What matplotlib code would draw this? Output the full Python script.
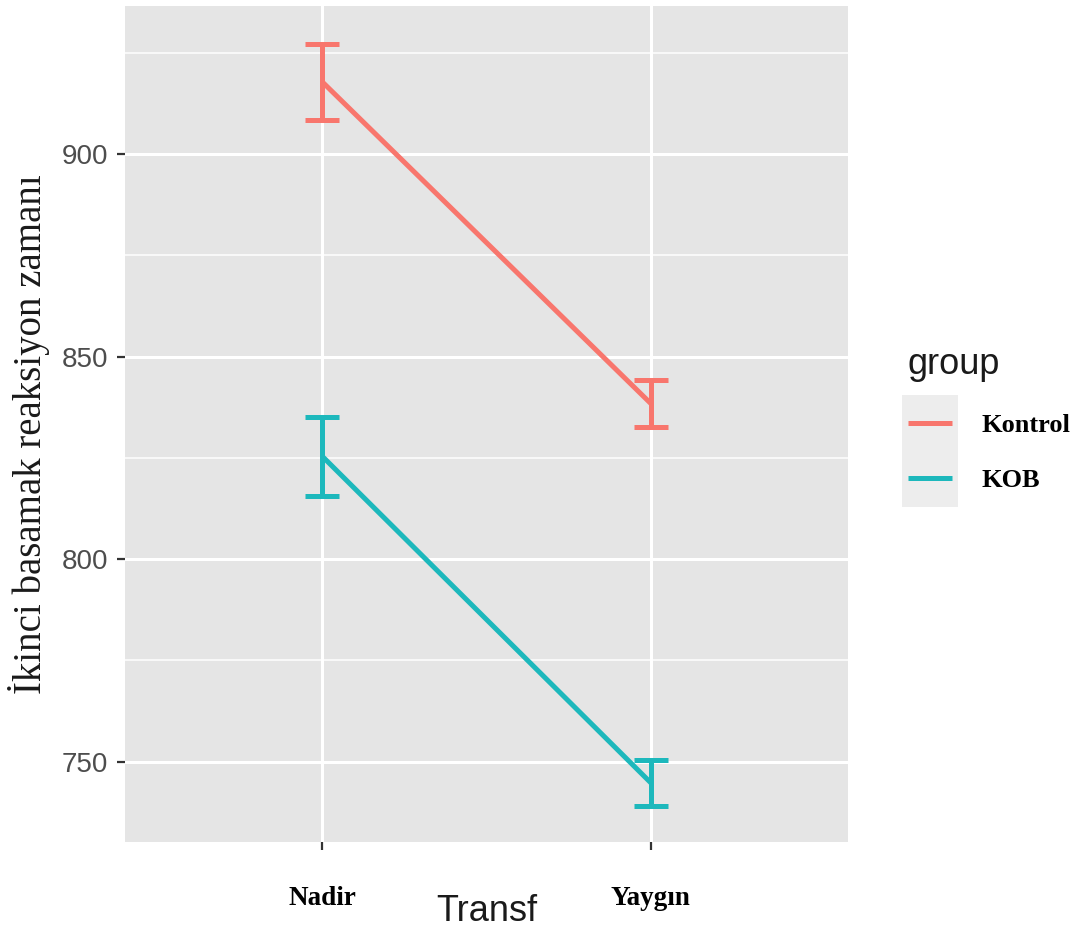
import numpy as np
import matplotlib
matplotlib.use("Agg")
import matplotlib.pyplot as plt
from matplotlib.patches import Rectangle

# veriler
transf = ["Nadir", "Yaygın"]
groups = ["Kontrol", "KOB"]
kontrol_mean = [917.8, 838.4]
kontrol_err = [9.4, 5.7]
kob_mean = [825.4, 744.8]
kob_err = [9.8, 5.7]

colors = {"Kontrol": "#F8766D", "KOB": "#1DB8BC"}
means = {"Kontrol": kontrol_mean, "KOB": kob_mean}
errs = {"Kontrol": kontrol_err, "KOB": kob_err}

fig = plt.figure(figsize=(10.74, 9.27), dpi=100)
ax = fig.add_axes([0.1164, 0.0917, 0.6732, 0.9018])
ax.set_facecolor("#E5E5E5")
for s in ax.spines.values():
    s.set_visible(False)

x = np.arange(1, len(transf) + 1)
for g in groups:
    ax.plot(x, means[g], color=colors[g], lw=3.6, label=g, solid_capstyle="butt", zorder=3)
    ax.errorbar(x, means[g], yerr=errs[g], fmt="none", ecolor=colors[g],
                elinewidth=3.6, capsize=12.2, capthick=3.6, zorder=3)

ax.set_xlim(0.4, 2.6)
ax.set_ylim(730.2, 936.5)
ax.set_xticks(x)
ax.set_xticklabels(transf, fontfamily="Liberation Serif", fontweight="bold", fontsize=19.5, color="black")
ax.set_yticks([750, 800, 850, 900])
ax.set_yticks([775, 825, 875, 925], minor=True)
ax.tick_params(axis="y", which="major", labelsize=20, labelcolor="#4D4D4D", length=6, width=1.6,
               color="#333333", pad=6)
ax.tick_params(axis="y", which="minor", length=0)
ax.tick_params(axis="x", length=6, width=1.6, color="#333333", pad=26)
for lab in ax.get_yticklabels():
    lab.set_fontfamily("Liberation Sans")

ax.grid(which="major", color="white", lw=2.2)
ax.grid(which="minor", color="white", lw=1.1)
ax.set_axisbelow(True)

ax.set_xlabel("Transf", fontfamily="Liberation Sans", fontsize=26, color="#1A1A1A")
ax.xaxis.set_label_coords(0.50, -0.062)
ax.set_ylabel("İkinci basamak reaksiyon zamanı", fontfamily="Liberation Serif", fontsize=28, color="#1A1A1A")
ax.yaxis.set_label_coords(-0.104, 0.488)

# legend key background
fig.add_artist(Rectangle((902 / 1074, 1 - 507 / 927), 56 / 1074, 112 / 927,
                         transform=fig.transFigure, facecolor="#EDEDED", edgecolor="none", zorder=-1))
leg = ax.legend(loc="upper left", bbox_to_anchor=(1.05, 0.6205), frameon=False,
                title="group", prop={"family": "Liberation Serif", "weight": "bold", "size": 19},
                handlelength=1.67, handletextpad=1.1, labelspacing=1.2, alignment="left")
leg.get_title().set_fontfamily("Liberation Sans")
leg.get_title().set_fontsize(26)
leg.get_title().set_color("#1A1A1A")

plt.savefig("out.png", dpi=100)
